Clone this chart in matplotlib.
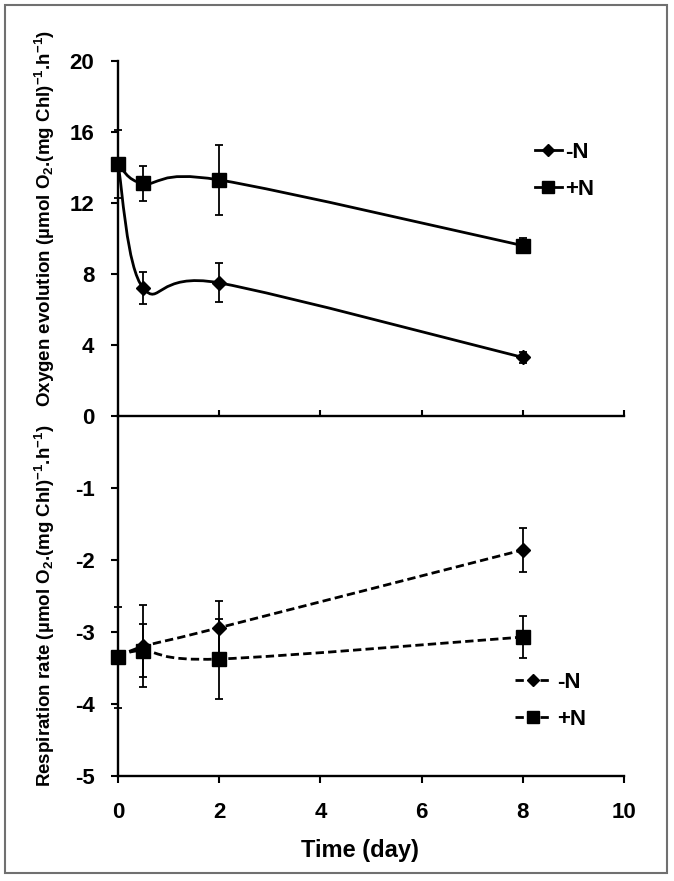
import matplotlib
matplotlib.use("Agg")
import matplotlib.pyplot as plt
import numpy as np
from matplotlib.path import Path
from matplotlib.patches import PathPatch, Rectangle
from matplotlib.lines import Line2D

plt.rcParams['font.family'] = ['Liberation Sans', 'DejaVu Sans']
plt.rcParams['font.weight'] = 'bold'
plt.rcParams['axes.unicode_minus'] = False
plt.rcParams['mathtext.fontset'] = 'custom'
plt.rcParams['mathtext.rm'] = 'Liberation Sans:bold'
plt.rcParams['mathtext.bf'] = 'Liberation Sans:bold'
plt.rcParams['mathtext.it'] = 'Liberation Sans:bold'
plt.rcParams['mathtext.default'] = 'bf'

# ---------------- data ----------------
days = [0, 0.5, 2, 8]
o2_minusN = [14.2, 7.2, 7.5, 3.3]
o2_minusN_err = [0, 0.9, 1.1, 0.33]
o2_plusN = [14.2, 13.1, 13.3, 9.6]
o2_plusN_err = [1.9, 1.0, 1.95, 0.4]
resp_minusN = [-3.35, -3.2, -2.94, -1.86]
resp_minusN_err = [0, 0.57, 0.37, 0.3]
resp_plusN = [-3.35, -3.26, -3.375, -3.07]
resp_plusN_err = [0.7, 0.37, 0.56, 0.29]
xticks = [0, 2, 4, 6, 8, 10]
yticks_top = [0, 4, 8, 12, 16, 20]
yticks_bot = [-5, -4, -3, -2, -1]
series_labels = ['-N', '+N']

W, H = 674, 881
fig = plt.figure(figsize=(W / 100, H / 100), dpi=100)

def fx(px):
    return px / W

def fy(py):
    return 1 - py / H

x0, x1 = 118, 624
ax_top = fig.add_axes([fx(x0), fy(416), fx(x1 - x0), (416 - 61) / H])
ax_bot = fig.add_axes([fx(x0), fy(776), fx(x1 - x0), (776 - 416) / H])

for ax in (ax_top, ax_bot):
    ax.set_xlim(0, 10)
    ax.set_xticks(xticks)
    for s in ('top', 'right'):
        ax.spines[s].set_visible(False)
    for s in ('left', 'bottom'):
        ax.spines[s].set_linewidth(1.7)
    ax.patch.set_alpha(0)

ax_top.set_ylim(0, 20)
ax_top.set_yticks(yticks_top)
ax_bot.set_ylim(-5, 0)
ax_bot.set_yticks(yticks_bot)

fs_tick = 16
ax_top.tick_params(axis='y', direction='out', length=5, width=1.5, pad=12, labelsize=fs_tick)
ax_top.tick_params(axis='x', direction='in', length=4, width=1.5, labelbottom=False)
ax_bot.tick_params(axis='y', direction='out', length=5, width=1.5, pad=12, labelsize=fs_tick)
ax_bot.tick_params(axis='x', direction='out', length=5, width=1.5, pad=14, labelsize=fs_tick)
for ax in (ax_top, ax_bot):
    for lab in ax.get_xticklabels() + ax.get_yticklabels():
        lab.set_fontweight('bold')


def smooth_curve(ax, xs, ys, **kw):
    pts = ax.transData.transform(np.column_stack([xs, ys]))
    n = len(pts)
    verts = [pts[0]]
    codes = [Path.MOVETO]
    for i in range(n - 1):
        p0 = pts[i - 1] if i > 0 else pts[i]
        p1 = pts[i]
        p2 = pts[i + 1]
        p3 = pts[i + 2] if i + 2 < n else pts[i + 1]
        c1 = p1 + (p2 - p0) / 6.0
        c2 = p2 - (p3 - p1) / 6.0
        verts += [c1, c2, p2]
        codes += [Path.CURVE4] * 3
    verts = ax.transData.inverted().transform(np.array(verts))
    patch = PathPatch(Path(verts, codes), fill=False, **kw)
    ax.add_patch(patch)
    return patch

lw = 2.0
# top panel
smooth_curve(ax_top, days, o2_minusN, edgecolor='black', linewidth=lw, zorder=2)
smooth_curve(ax_top, days, o2_plusN, edgecolor='black', linewidth=lw, zorder=2)
ax_top.errorbar(days, o2_minusN, yerr=o2_minusN_err, fmt='D', color='black', ms=7,
                elinewidth=1.3, capsize=3, capthick=1.3, zorder=3, clip_on=False)
ax_top.errorbar(days, o2_plusN, yerr=o2_plusN_err, fmt='s', color='black', ms=9.5,
                elinewidth=1.3, capsize=3, capthick=1.3, zorder=3, clip_on=False)

# bottom panel
dash = (3, 1.5)
p1 = smooth_curve(ax_bot, days, resp_minusN, edgecolor='black', linewidth=lw, zorder=2)
p2 = smooth_curve(ax_bot, days, resp_plusN, edgecolor='black', linewidth=lw, zorder=2)
for p in (p1, p2):
    p.set_linestyle((0, dash))
ax_bot.errorbar(days, resp_minusN, yerr=resp_minusN_err, fmt='D', color='black', ms=7,
                elinewidth=1.3, capsize=3, capthick=1.3, zorder=3, clip_on=False)
ax_bot.errorbar(days, resp_plusN, yerr=resp_plusN_err, fmt='s', color='black', ms=9.5,
                elinewidth=1.3, capsize=3, capthick=1.3, zorder=3, clip_on=False)

# legends
h_top = [Line2D([], [], color='black', lw=lw, marker='D', ms=6),
         Line2D([], [], color='black', lw=lw, marker='s', ms=8)]
leg1 = ax_top.legend(h_top, series_labels, loc='upper left', frameon=False,
                     bbox_to_anchor=(fx(535), fy(142)), bbox_transform=fig.transFigure,
                     handlelength=1.2, handletextpad=0.15, labelspacing=0.7,
                     prop={'size': 16, 'weight': 'bold'}, borderpad=0, borderaxespad=0)
h_bot = [Line2D([], [], color='black', lw=lw, ls=(0, dash), marker='D', ms=6),
         Line2D([], [], color='black', lw=lw, ls=(0, dash), marker='s', ms=8)]
leg2 = ax_bot.legend(h_bot, series_labels, loc='upper left', frameon=False,
                     bbox_to_anchor=(fx(515), fy(672)), bbox_transform=fig.transFigure,
                     handlelength=1.6, handletextpad=0.3, labelspacing=0.7,
                     prop={'size': 16, 'weight': 'bold'}, borderpad=0, borderaxespad=0)

# axis labels
fs_lab = 13.5
fig.text(fx(45), fy(218), r'Oxygen evolution (µmol O$_2$.(mg Chl)$^{-1}$.h$^{-1}$)',
         rotation=90, ha='center', va='center', fontsize=fs_lab, fontweight='bold')
fig.text(fx(45), fy(606), r'Respiration rate (µmol O$_2$.(mg Chl)$^{-1}$.h$^{-1}$)',
         rotation=90, ha='center', va='center', fontsize=fs_lab, fontweight='bold')
fig.text(fx(360), fy(850), 'Time (day)', ha='center', va='center',
         fontsize=17, fontweight='bold')

# outer border
fig.patches.append(Rectangle((fx(5), fy(873)), fx(662), (873 - 5) / H,
                             transform=fig.transFigure, fill=False,
                             edgecolor='#707070', linewidth=1.5))

fig.savefig('out.png', dpi=100)
